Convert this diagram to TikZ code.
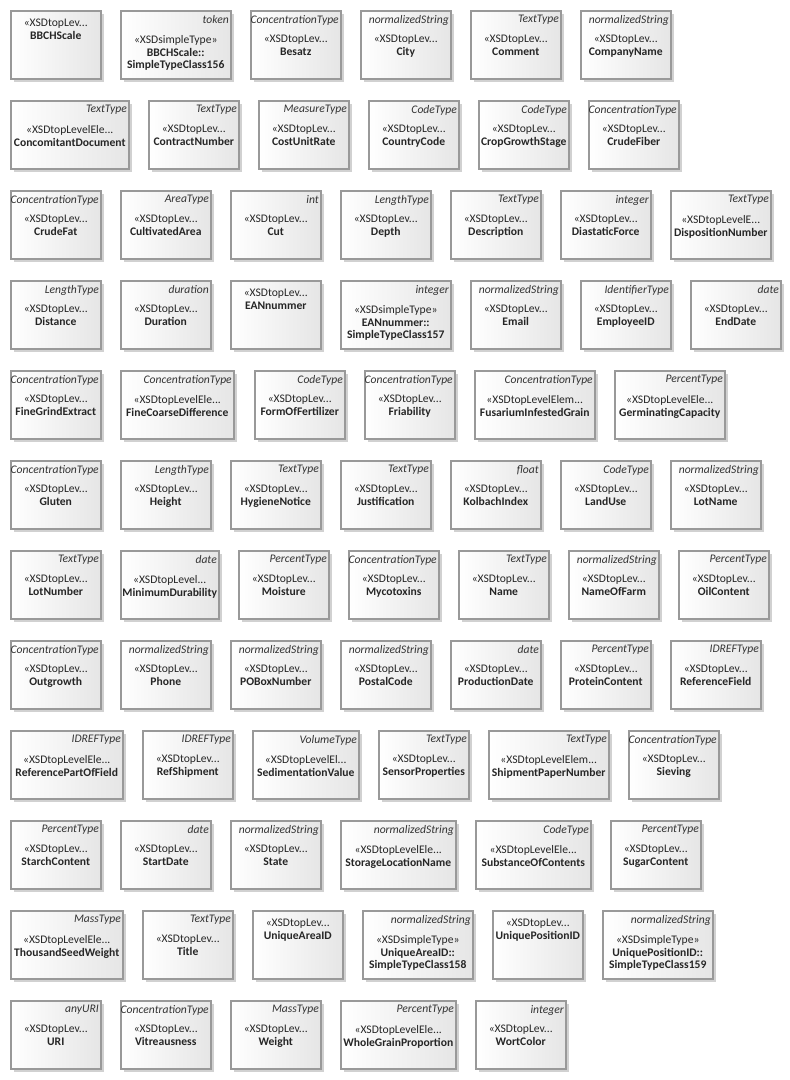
\documentclass[tikz,border=0pt]{standalone}
\usepackage{fontspec}
\usepackage{tikz}
\usetikzlibrary{shadows,positioning,calc}
\newfontfamily\diagfont{Carlito}
\tikzset{
  xsdbox/.style={draw=black!40, line width=1.5pt, left color=white, right color=black!10,
    minimum height=68pt, anchor=north west, inner sep=0pt,
    drop shadow={shadow xshift=3pt, shadow yshift=-3pt, fill=black!18, opacity=1}},
  typelbl/.style={anchor=north east, inner xsep=2.5pt, inner ysep=0pt, yshift=-5pt,
    font=\diagfont\itshape\fontsize{11.6}{13}\selectfont, text=black!80},
  bodytxt/.style={anchor=north, align=center, inner sep=0pt,
    font=\diagfont\fontsize{11.6}{12.8}\selectfont, text=black!85}
}
% box with a type name in the upper right corner
\newcommand{\xsdtyped}[6]{%
  \node[xsdbox, minimum width=#4pt] (#1) at (#2,#3) {};
  \node[typelbl] (#1-type) at (#1.north east) {#5};
  \node[bodytxt] (#1-body) at ([yshift=-25pt]#1.north) {#6};
}
% box without a type name
\newcommand{\xsdplain}[5]{%
  \node[xsdbox, minimum width=#4pt] (#1) at (#2,#3) {};
  \node[bodytxt] (#1-body) at ([yshift=-9pt]#1.north) {#5};
}
\newcommand{\tl}{«XSDtopLev...}
\newcommand{\st}{«XSDsimpleType»}

\begin{document}
\begin{tikzpicture}[x=1pt, y=-1pt]
  \useasboundingbox (0,0) rectangle (790,1080);
  % row 1
  \xsdplain{bbchscale}{10}{10}{90}{\tl\\\textbf{BBCHScale}}
  \xsdtyped{bbchstc}{120}{10}{110}{token}{\st\\\textbf{BBCHScale::}\\\textbf{SimpleTypeClass156}}
  \xsdtyped{besatz}{250}{10}{90}{ConcentrationType}{\tl\\\textbf{Besatz}}
  \xsdtyped{city}{360}{10}{90}{normalizedString}{\tl\\\textbf{City}}
  \xsdtyped{comment}{470}{10}{90}{TextType}{\tl\\\textbf{Comment}}
  \xsdtyped{companyname}{580}{10}{90}{normalizedString}{\tl\\\textbf{CompanyName}}
  % row 2
  \xsdtyped{concomitant}{10}{100}{118}{TextType}{«XSDtopLevelEle...\\\textbf{ConcomitantDocument}}
  \xsdtyped{contract}{148}{100}{90}{TextType}{\tl\\\textbf{ContractNumber}}
  \xsdtyped{costunitrate}{258}{100}{90}{MeasureType}{\tl\\\textbf{CostUnitRate}}
  \xsdtyped{countrycode}{368}{100}{90}{CodeType}{\tl\\\textbf{CountryCode}}
  \xsdtyped{cropgrowth}{478}{100}{90}{CodeType}{\tl\\\textbf{CropGrowthStage}}
  \xsdtyped{crudefiber}{588}{100}{90}{ConcentrationType}{\tl\\\textbf{CrudeFiber}}
  % row 3
  \xsdtyped{crudefat}{10}{190}{90}{ConcentrationType}{\tl\\\textbf{CrudeFat}}
  \xsdtyped{cultivated}{120}{190}{90}{AreaType}{\tl\\\textbf{CultivatedArea}}
  \xsdtyped{cut}{230}{190}{90}{int}{\tl\\\textbf{Cut}}
  \xsdtyped{depth}{340}{190}{90}{LengthType}{\tl\\\textbf{Depth}}
  \xsdtyped{description}{450}{190}{90}{TextType}{\tl\\\textbf{Description}}
  \xsdtyped{diastatic}{560}{190}{90}{integer}{\tl\\\textbf{DiastaticForce}}
  \xsdtyped{disposition}{670}{190}{100}{TextType}{«XSDtopLevelE...\\\textbf{DispositionNumber}}
  % row 4
  \xsdtyped{distance}{10}{280}{90}{LengthType}{\tl\\\textbf{Distance}}
  \xsdtyped{duration}{120}{280}{90}{duration}{\tl\\\textbf{Duration}}
  \xsdplain{eannummer}{230}{280}{90}{\tl\\\textbf{EANnummer}}
  \xsdtyped{eanstc}{340}{280}{110}{integer}{\st\\\textbf{EANnummer::}\\\textbf{SimpleTypeClass157}}
  \xsdtyped{email}{470}{280}{90}{normalizedString}{\tl\\\textbf{Email}}
  \xsdtyped{employee}{580}{280}{90}{IdentifierType}{\tl\\\textbf{EmployeeID}}
  \xsdtyped{enddate}{690}{280}{90}{date}{\tl\\\textbf{EndDate}}
  % row 5
  \xsdtyped{finegrind}{10}{370}{90}{ConcentrationType}{\tl\\\textbf{FineGrindExtract}}
  \xsdtyped{finecoarse}{120}{370}{113}{ConcentrationType}{«XSDtopLevelEle...\\\textbf{FineCoarseDifference}}
  \xsdtyped{formfert}{254}{370}{90}{CodeType}{\tl\\\textbf{FormOfFertilizer}}
  \xsdtyped{friability}{364}{370}{90}{ConcentrationType}{\tl\\\textbf{Friability}}
  \xsdtyped{fusarium}{474}{370}{120}{ConcentrationType}{«XSDtopLevelElem...\\\textbf{FusariumInfestedGrain}}
  \xsdtyped{germinating}{614}{370}{110}{PercentType}{«XSDtopLevelEle...\\\textbf{GerminatingCapacity}}
  % row 6
  \xsdtyped{gluten}{10}{460}{90}{ConcentrationType}{\tl\\\textbf{Gluten}}
  \xsdtyped{height}{120}{460}{90}{LengthType}{\tl\\\textbf{Height}}
  \xsdtyped{hygiene}{230}{460}{90}{TextType}{\tl\\\textbf{HygieneNotice}}
  \xsdtyped{justification}{340}{460}{90}{TextType}{\tl\\\textbf{Justification}}
  \xsdtyped{kolbach}{450}{460}{90}{float}{\tl\\\textbf{KolbachIndex}}
  \xsdtyped{landuse}{560}{460}{90}{CodeType}{\tl\\\textbf{LandUse}}
  \xsdtyped{lotname}{670}{460}{90}{normalizedString}{\tl\\\textbf{LotName}}
  % row 7
  \xsdtyped{lotnumber}{10}{550}{90}{TextType}{\tl\\\textbf{LotNumber}}
  \xsdtyped{mindurability}{120}{550}{98}{date}{«XSDtopLevel...\\\textbf{MinimumDurability}}
  \xsdtyped{moisture}{238}{550}{90}{PercentType}{\tl\\\textbf{Moisture}}
  \xsdtyped{mycotoxins}{348}{550}{90}{ConcentrationType}{\tl\\\textbf{Mycotoxins}}
  \xsdtyped{name}{458}{550}{90}{TextType}{\tl\\\textbf{Name}}
  \xsdtyped{nameoffarm}{568}{550}{90}{normalizedString}{\tl\\\textbf{NameOfFarm}}
  \xsdtyped{oilcontent}{678}{550}{90}{PercentType}{\tl\\\textbf{OilContent}}
  % row 8
  \xsdtyped{outgrowth}{10}{640}{90}{ConcentrationType}{\tl\\\textbf{Outgrowth}}
  \xsdtyped{phone}{120}{640}{90}{normalizedString}{\tl\\\textbf{Phone}}
  \xsdtyped{pobox}{230}{640}{90}{normalizedString}{\tl\\\textbf{POBoxNumber}}
  \xsdtyped{postalcode}{340}{640}{90}{normalizedString}{\tl\\\textbf{PostalCode}}
  \xsdtyped{production}{450}{640}{90}{date}{\tl\\\textbf{ProductionDate}}
  \xsdtyped{protein}{560}{640}{90}{PercentType}{\tl\\\textbf{ProteinContent}}
  \xsdtyped{reffield}{670}{640}{90}{IDREFType}{\tl\\\textbf{ReferenceField}}
  % row 9
  \xsdtyped{refpart}{10}{730}{112}{IDREFType}{«XSDtopLevelEle...\\\textbf{ReferencePartOfField}}
  \xsdtyped{refshipment}{142}{730}{90}{IDREFType}{\tl\\\textbf{RefShipment}}
  \xsdtyped{sediment}{252}{730}{106}{VolumeType}{«XSDtopLevelEl...\\\textbf{SedimentationValue}}
  \xsdtyped{sensor}{378}{730}{90}{TextType}{\tl\\\textbf{SensorProperties}}
  \xsdtyped{shipment}{488}{730}{120}{TextType}{«XSDtopLevelElem...\\\textbf{ShipmentPaperNumber}}
  \xsdtyped{sieving}{628}{730}{90}{ConcentrationType}{\tl\\\textbf{Sieving}}
  % row 10
  \xsdtyped{starch}{10}{820}{90}{PercentType}{\tl\\\textbf{StarchContent}}
  \xsdtyped{startdate}{120}{820}{90}{date}{\tl\\\textbf{StartDate}}
  \xsdtyped{state}{230}{820}{90}{normalizedString}{\tl\\\textbf{State}}
  \xsdtyped{storage}{340}{820}{115}{normalizedString}{«XSDtopLevelEle...\\\textbf{StorageLocationName}}
  \xsdtyped{substance}{475}{820}{115}{CodeType}{«XSDtopLevelEle...\\\textbf{SubstanceOfContents}}
  \xsdtyped{sugar}{610}{820}{90}{PercentType}{\tl\\\textbf{SugarContent}}
  % row 11
  \xsdtyped{thousand}{10}{910}{112}{MassType}{«XSDtopLevelEle...\\\textbf{ThousandSeedWeight}}
  \xsdtyped{title}{142}{910}{90}{TextType}{\tl\\\textbf{Title}}
  \xsdplain{uniquearea}{252}{910}{90}{\tl\\\textbf{UniqueAreaID}}
  \xsdtyped{areastc}{362}{910}{110}{normalizedString}{\st\\\textbf{UniqueAreaID::}\\\textbf{SimpleTypeClass158}}
  \xsdplain{uniquepos}{492}{910}{90}{\tl\\\textbf{UniquePositionID}}
  \xsdtyped{posstc}{602}{910}{110}{normalizedString}{\st\\\textbf{UniquePositionID::}\\\textbf{SimpleTypeClass159}}
  % row 12
  \xsdtyped{uri}{10}{1000}{90}{anyURI}{\tl\\\textbf{URI}}
  \xsdtyped{vitreausness}{120}{1000}{90}{ConcentrationType}{\tl\\\textbf{Vitreausness}}
  \xsdtyped{weight}{230}{1000}{90}{MassType}{\tl\\\textbf{Weight}}
  \xsdtyped{wholegrain}{340}{1000}{115}{PercentType}{«XSDtopLevelEle...\\\textbf{WholeGrainProportion}}
  \xsdtyped{wortcolor}{475}{1000}{90}{integer}{\tl\\\textbf{WortColor}}
\end{tikzpicture}
\end{document}
